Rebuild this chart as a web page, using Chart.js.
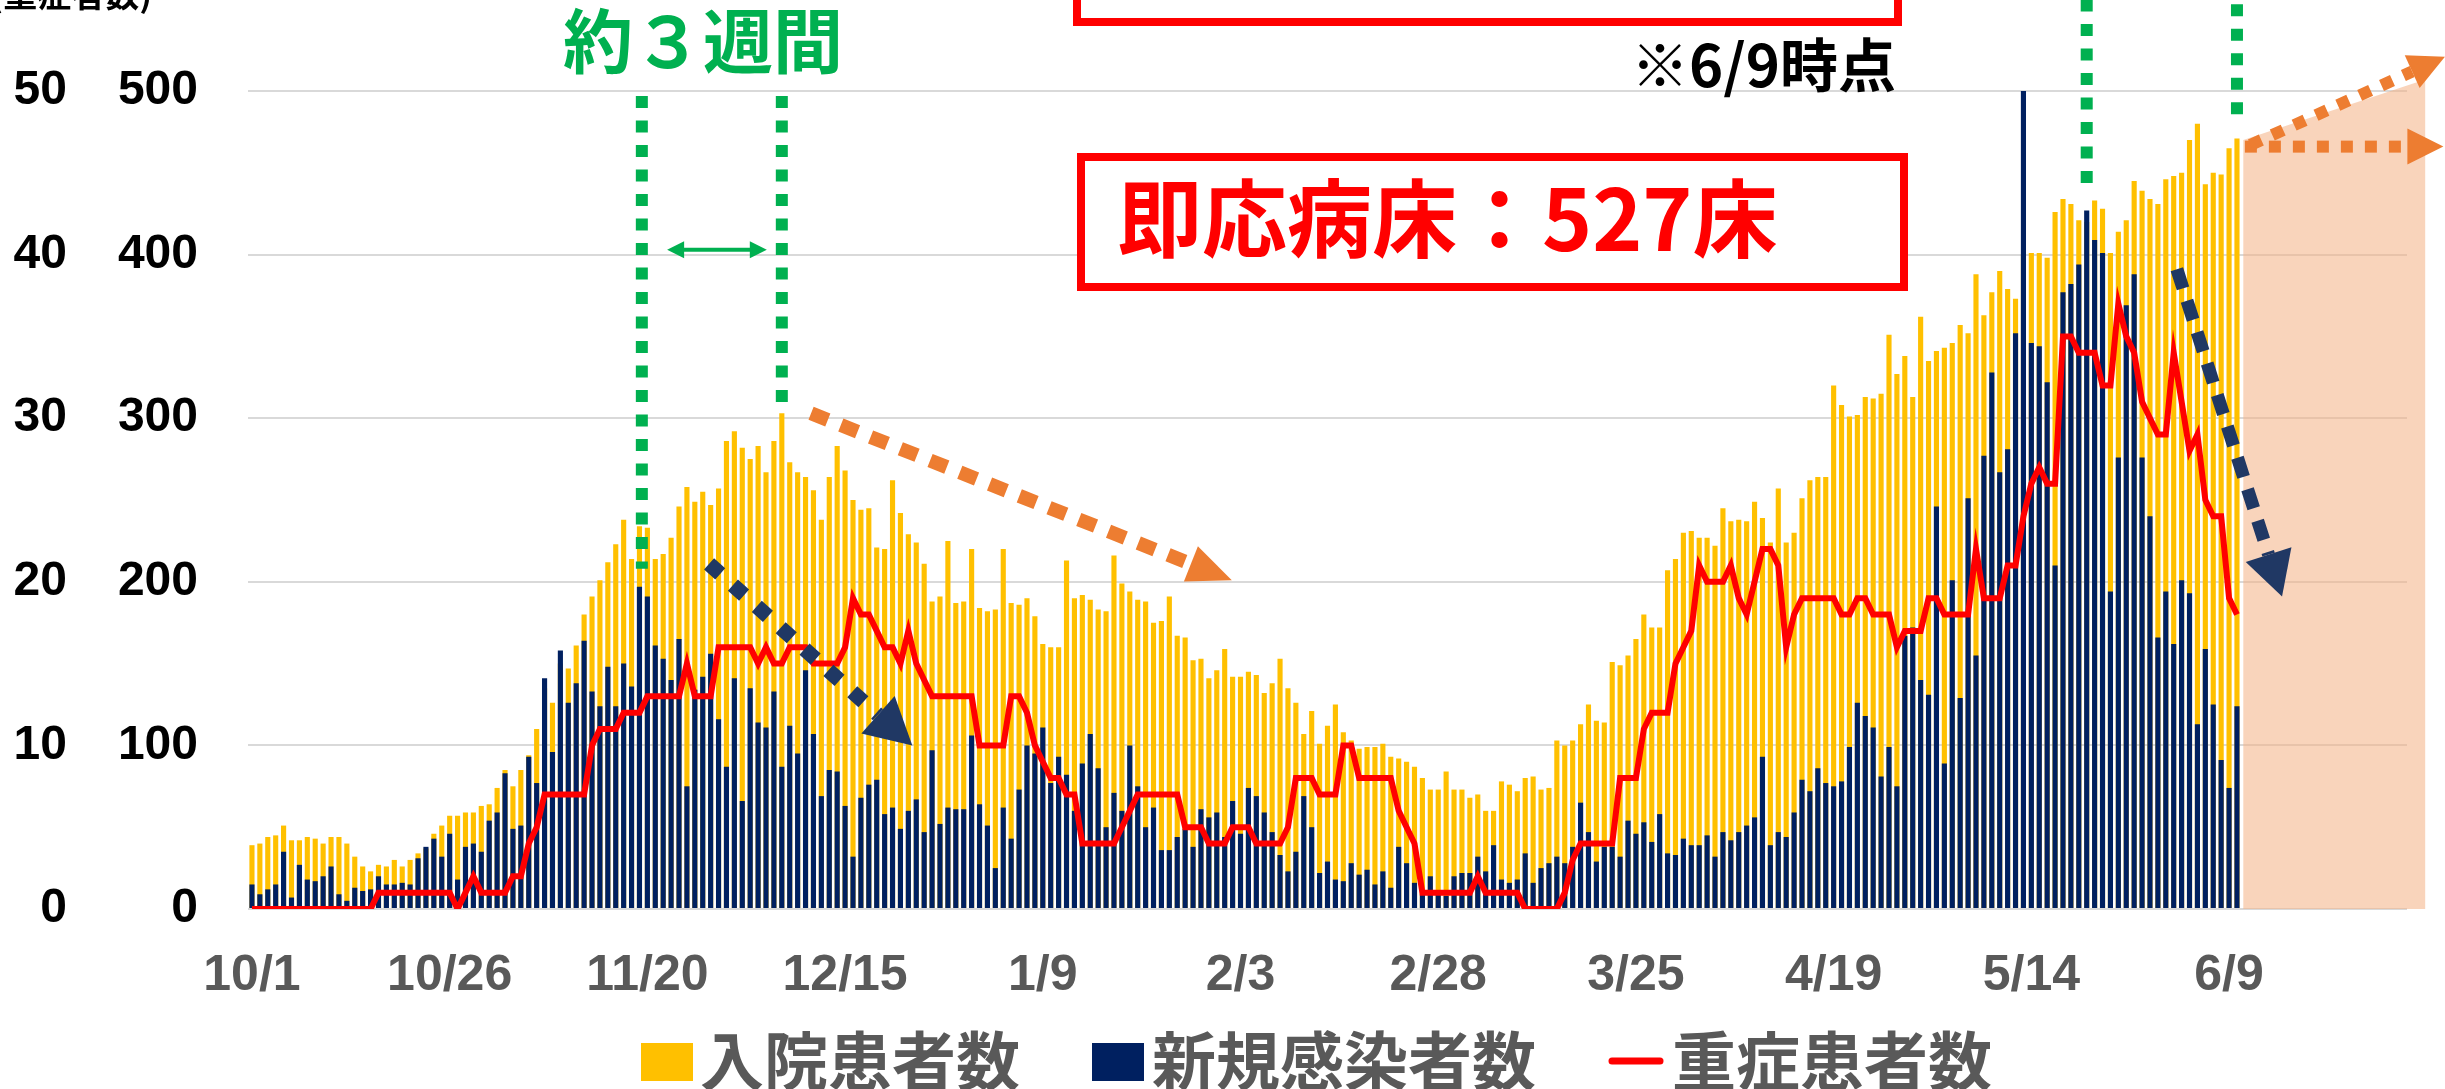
<!DOCTYPE html>
<html>
<head>
<meta charset="utf-8">
<script src="https://cdn.jsdelivr.net/npm/chart.js@4.4.1/dist/chart.umd.min.js"></script>
<style>
html, body { margin: 0; padding: 0; background: #fff; overflow: hidden; }
#wrap { width: 2445px; height: 1089px; position: relative; }
</style>
</head>
<body>
<div id="wrap"><canvas id="canvas"></canvas></div>
<script>
/* data: daily values from 10/1 to 6/9, the axis runs on to 6/30 */
var startDate = new Date(2020, 9, 1);
var axisDays = 273;
var tickLabels = ['10/1', '10/26', '11/20', '12/15', '1/9', '2/3', '2/28', '3/25', '4/19', '5/14', '6/9'];
var tickStep = 25;

var seriesNames = ['入院患者数', '新規感染者数', '重症患者数'];

var hospitalized = [
    39, 40, 44, 45, 51, 42, 42, 44, 43, 40,
    44, 44, 40, 32, 26, 23, 27, 26, 30, 26,
    30, 34, 37, 46, 51, 57, 57, 59, 59, 63,
    64, 74, 85, 75, 85, 94, 110, 135, 126, 150,
    147, 161, 180, 191, 201, 212, 223, 238, 214, 234,
    233, 214, 217, 227, 246, 258, 249, 255, 247, 257,
    286, 292, 282, 275, 283, 267, 286, 303, 273, 267,
    264, 256, 238, 264, 283, 268, 250, 244, 245, 221,
    220, 262, 242, 229, 224, 211, 188, 191, 225, 187,
    188, 220, 184, 182, 183, 220, 187, 186, 190, 179,
    162, 160, 160, 213, 190, 192, 189, 183, 182, 216,
    199, 194, 189, 188, 175, 176, 191, 167, 166, 152,
    153, 141, 146, 159, 142, 142, 145, 143, 132, 138,
    153, 135, 126, 107, 121, 101, 112, 125, 108, 103,
    98, 99, 99, 101, 93, 92, 90, 87, 80, 73,
    73, 84, 73, 73, 68, 70, 60, 60, 78, 76,
    72, 80, 81, 73, 74, 103, 100, 103, 113, 125,
    115, 114, 151, 149, 155, 165, 180, 172, 172, 207,
    214, 230, 231, 227, 227, 222, 245, 237, 238, 237,
    249, 239, 224, 257, 224, 230, 251, 262, 264, 264,
    320, 308, 301, 302, 313, 312, 315, 351, 327, 338,
    313, 362, 335, 341, 343, 346, 357, 352, 388, 363,
    377, 390, 379, 373, 400, 401, 401, 398, 426, 434,
    431, 421, 420, 433, 428, 401, 414, 421, 445, 439,
    434, 431, 446, 448, 450, 470, 480, 443, 450, 449,
    465, 471
];

var newCases = [
    15, 9, 12, 15, 35, 7, 27, 18, 17, 20,
    26, 9, 5, 13, 11, 12, 20, 15, 15, 16,
    15, 31, 38, 43, 32, 46, 18, 38, 40, 35,
    54, 59, 83, 49, 51, 93, 77, 141, 96, 158,
    126, 138, 164, 133, 124, 148, 124, 150, 136, 197,
    191, 161, 153, 140, 165, 75, 134, 142, 156, 116,
    87, 141, 66, 135, 114, 111, 133, 87, 112, 95,
    146, 107, 69, 85, 84, 63, 32, 68, 76, 79,
    58, 62, 49, 60, 67, 47, 97, 52, 62, 61,
    61, 106, 64, 51, 25, 62, 43, 73, 100, 95,
    111, 77, 93, 82, 60, 89, 107, 86, 50, 71,
    60, 100, 75, 50, 62, 36, 36, 44, 49, 38,
    61, 56, 59, 44, 66, 46, 74, 69, 59, 47,
    33, 23, 35, 69, 50, 22, 29, 18, 17, 28,
    21, 24, 15, 23, 13, 38, 28, 16, 9, 20,
    9, 8, 20, 22, 22, 32, 23, 39, 18, 16,
    18, 34, 16, 25, 28, 32, 28, 38, 65, 47,
    29, 38, 38, 32, 54, 46, 53, 41, 58, 34,
    33, 43, 39, 39, 45, 32, 47, 42, 47, 51,
    56, 93, 39, 47, 44, 59, 79, 72, 86, 77,
    75, 78, 99, 126, 118, 111, 81, 99, 75, 167,
    172, 140, 131, 246, 89, 201, 129, 251, 155, 277,
    328, 267, 281, 352, 500, 346, 344, 322, 210, 377,
    382, 394, 427, 409, 401, 194, 276, 369, 388, 276,
    240, 166, 194, 162, 201, 193, 113, 159, 125, 91,
    74, 124
];

var severe = [
    0, 0, 0, 0, 0, 0, 0, 0, 0, 0,
    0, 0, 0, 0, 0, 0, 1, 1, 1, 1,
    1, 1, 1, 1, 1, 1, 0, 1, 2, 1,
    1, 1, 1, 2, 2, 4, 5, 7, 7, 7,
    7, 7, 7, 10, 11, 11, 11, 12, 12, 12,
    13, 13, 13, 13, 13, 15, 13, 13, 13, 16,
    16, 16, 16, 16, 15, 16, 15, 15, 16, 16,
    16, 15, 15, 15, 15, 16, 19, 18, 18, 17,
    16, 16, 15, 17, 15, 14, 13, 13, 13, 13,
    13, 13, 10, 10, 10, 10, 13, 13, 12, 10,
    9, 8, 8, 7, 7, 4, 4, 4, 4, 4,
    5, 6, 7, 7, 7, 7, 7, 7, 5, 5,
    5, 4, 4, 4, 5, 5, 5, 4, 4, 4,
    4, 5, 8, 8, 8, 7, 7, 7, 10, 10,
    8, 8, 8, 8, 8, 6, 5, 4, 1, 1,
    1, 1, 1, 1, 1, 2, 1, 1, 1, 1,
    1, 0, 0, 0, 0, 0, 1, 3, 4, 4,
    4, 4, 4, 8, 8, 8, 11, 12, 12, 12,
    15, 16, 17, 21, 20, 20, 20, 21, 19, 18,
    20, 22, 22, 21, 16, 18, 19, 19, 19, 19,
    19, 18, 18, 19, 19, 18, 18, 18, 16, 17,
    17, 17, 19, 19, 18, 18, 18, 18, 22, 19,
    19, 19, 21, 21, 24, 26, 27, 26, 26, 35,
    35, 34, 34, 34, 32, 32, 37, 35, 34, 31,
    30, 29, 29, 34, 31, 28, 29, 25, 24, 24,
    19, 18
];

var FONT = "'Liberation Sans', 'Noto Sans CJK JP', sans-serif";
var JP = "'Noto Sans CJK JP', 'Liberation Sans', sans-serif";

// category labels, one per day on the axis
var labels = [];
for (var i = 0; i < axisDays; i++) {
    var d = new Date(startDate.getTime());
    d.setDate(d.getDate() + i);
    labels.push((d.getMonth() + 1) + '/' + d.getDate());
}

/* drawing helpers for the notes on top of the chart */
function dashedArrow(ctx, x1, y1, x2, y2, o) {
    var dx = x2 - x1, dy = y2 - y1;
    var len = Math.sqrt(dx * dx + dy * dy);
    var ux = dx / len, uy = dy / len;
    var bx = x2 - ux * o.head, by = y2 - uy * o.head;
    ctx.save();
    ctx.strokeStyle = o.color;
    ctx.lineWidth = o.width;
    ctx.lineCap = 'butt';
    ctx.setLineDash(o.dash);
    ctx.beginPath();
    ctx.moveTo(x1, y1);
    ctx.lineTo(bx, by);
    ctx.stroke();
    ctx.setLineDash([]);
    ctx.fillStyle = o.color;
    ctx.beginPath();
    ctx.moveTo(x2, y2);
    ctx.lineTo(bx - uy * o.headW / 2, by + ux * o.headW / 2);
    ctx.lineTo(bx + uy * o.headW / 2, by - ux * o.headW / 2);
    ctx.closePath();
    ctx.fill();
    ctx.restore();
}

function head(ctx, tx, ty, ux, uy, l, w) {
    var bx = tx - ux * l, by = ty - uy * l;
    ctx.beginPath();
    ctx.moveTo(tx, ty);
    ctx.lineTo(bx - uy * w / 2, by + ux * w / 2);
    ctx.lineTo(bx + uy * w / 2, by - ux * w / 2);
    ctx.closePath();
    ctx.fill();
}

var notesPlugin = {
    id: 'notes',
    beforeDatasetsDraw: function (chart) {
        var ctx = chart.ctx;
        var xs = chart.scales.x, ys = chart.scales.y;
        // shaded forecast area after 6/9
        ctx.save();
        ctx.fillStyle = 'rgba(244,177,131,0.55)';
        ctx.beginPath();
        ctx.moveTo(xs.getPixelForValue(251.8), ys.getPixelForValue(0));
        ctx.lineTo(xs.getPixelForValue(251.8), ys.getPixelForValue(470));
        ctx.lineTo(xs.getPixelForValue(274.8), ys.getPixelForValue(507));
        ctx.lineTo(xs.getPixelForValue(274.8), ys.getPixelForValue(0));
        ctx.closePath();
        ctx.fill();
        ctx.restore();
    },
    afterDatasetsDraw: function (chart) {
        var ctx = chart.ctx;
        var xs = chart.scales.x, ys = chart.scales.y;
        var X = function (v) { return xs.getPixelForValue(v); };
        var Y = function (v) { return ys.getPixelForValue(v); };

        // green dotted guides
        var greens = [[49.3, 497, 208], [67.0, 497, 306], [232.0, 556, 438], [251.0, 553, 484]];
        ctx.save();
        ctx.strokeStyle = '#00B050';
        ctx.lineWidth = 12;
        ctx.setLineDash([12, 12.5]);
        for (var i = 0; i < greens.length; i++) {
            ctx.beginPath();
            ctx.moveTo(X(greens[i][0]), Y(greens[i][1]));
            ctx.lineTo(X(greens[i][0]), Y(greens[i][2]));
            ctx.stroke();
        }
        ctx.setLineDash([]);
        // double arrow between the first two guides
        var ax1 = X(52.5), ax2 = X(65.1), ay = Y(403);
        ctx.lineWidth = 4;
        ctx.beginPath();
        ctx.moveTo(ax1 + 12, ay);
        ctx.lineTo(ax2 - 12, ay);
        ctx.stroke();
        ctx.fillStyle = '#00B050';
        head(ctx, ax1, ay, -1, 0, 17, 17);
        head(ctx, ax2, ay, 1, 0, 17, 17);
        ctx.restore();

        // trend arrows
        dashedArrow(ctx, X(70.7), Y(303), X(123.9), Y(201),
            {color: '#ED7D31', width: 14, dash: [18, 14], head: 44, headW: 38});
        dashedArrow(ctx, X(57.8), Y(211), X(83.5), Y(100),
            {color: '#203864', width: 15, dash: [15, 17], head: 46, headW: 50});
        dashedArrow(ctx, X(243.4), Y(391), X(256.7), Y(191),
            {color: '#203864', width: 13, dash: [20, 13], head: 44, headW: 48});
        dashedArrow(ctx, X(252.0), Y(466), X(277.1), Y(466),
            {color: '#ED7D31', width: 12, dash: [12, 12], head: 36, headW: 36});
        dashedArrow(ctx, X(252.7), Y(467), X(277.3), Y(521),
            {color: '#ED7D31', width: 12, dash: [12, 12], head: 36, headW: 36});
    },
    afterDraw: function (chart) {
        var ctx = chart.ctx;
        ctx.save();
        // cut off axis title at the very top
        ctx.fillStyle = '#000';
        ctx.font = 'bold 34px ' + JP;
        ctx.textAlign = 'right';
        ctx.textBaseline = 'middle';
        ctx.fillText('(重症者数)', 152, -6);

        // top red box, mostly off the picture
        ctx.strokeStyle = '#FF0000';
        ctx.lineWidth = 8;
        ctx.strokeRect(1077, -60, 821, 82);

        ctx.fillStyle = '#000';
        ctx.font = 'bold 58px ' + JP;
        ctx.textAlign = 'right';
        ctx.fillText('※6/9時点', 1896, 65);

        ctx.fillStyle = '#00B050';
        ctx.font = 'bold 70px ' + JP;
        ctx.textAlign = 'center';
        ctx.fillText('約３週間', 703, 41);

        // bed count box
        ctx.fillStyle = '#fff';
        ctx.fillRect(1081, 157, 823, 130);
        ctx.strokeRect(1081, 157, 823, 130);
        ctx.fillStyle = '#FF0000';
        ctx.font = 'bold 85px ' + JP;
        ctx.textAlign = 'left';
        ctx.fillText('即応病床：527床', 1117, 219);

        // legend, in the order of the datasets
        var ds = chart.data.datasets;
        var spots = [[641, 700], [1092, 1152], [1608, 1672]];
        ctx.font = 'bold 64px ' + JP;
        ctx.textAlign = 'left';
        for (var i = 0; i < ds.length; i++) {
            var set = ds[i];
            if (set.type === 'line') {
                ctx.strokeStyle = set.borderColor;
                ctx.lineWidth = 7;
                ctx.lineCap = 'round';
                ctx.beginPath();
                ctx.moveTo(spots[i][0] + 4, 1061);
                ctx.lineTo(spots[i][0] + 52, 1061);
                ctx.stroke();
            } else {
                ctx.fillStyle = set.backgroundColor;
                ctx.fillRect(spots[i][0], 1043, 52, 38);
            }
            ctx.fillStyle = '#595959';
            ctx.fillText(set.label, spots[i][1], 1061);
        }
        ctx.restore();
    }
};

var ctx = document.getElementById('canvas').getContext('2d');

var chart = new Chart(ctx, {
    type: 'bar',
    data: {
        labels: labels,
        datasets: [
            {
                label: seriesNames[0],
                data: hospitalized,
                yAxisID: 'y',
                backgroundColor: '#FFC000',
                grouped: false,
                barPercentage: 0.65,
                categoryPercentage: 1,
                order: 2
            },
            {
                label: seriesNames[1],
                data: newCases,
                yAxisID: 'y',
                backgroundColor: '#002060',
                grouped: false,
                barPercentage: 0.65,
                categoryPercentage: 1,
                order: 1
            },
            {
                type: 'line',
                label: seriesNames[2],
                data: severe,
                yAxisID: 'ySevere',
                borderColor: '#FF0000',
                backgroundColor: '#FF0000',
                borderWidth: 6,
                pointRadius: 0,
                tension: 0,
                order: 0
            }
        ]
    },
    options: {
        responsive: true,
        maintainAspectRatio: false,
        animation: false,
        devicePixelRatio: 1,
        layout: {padding: {top: 91, right: 38, bottom: 88, left: 0}},
        plugins: {
            legend: {display: false},
            tooltip: {enabled: false}
        },
        scales: {
            x: {
                offset: true,
                grid: {display: false, drawTicks: false},
                border: {display: false},
                ticks: {
                    autoSkip: false,
                    maxRotation: 0,
                    minRotation: 0,
                    padding: 37,
                    color: '#595959',
                    font: {family: FONT, size: 50, weight: 'bold'},
                    callback: function (value, index) {
                        return index % tickStep === 0 ? tickLabels[index / tickStep] : '';
                    }
                },
                afterFit: function (scale) { scale.height = 92; }
            },
            ySevere: {
                position: 'left',
                weight: 2,
                min: 0,
                max: 50,
                grid: {display: false, drawTicks: false},
                border: {display: false},
                ticks: {stepSize: 10, padding: 13, color: '#000', font: {family: FONT, size: 48, weight: 'bold'}},
                afterFit: function (scale) { scale.width = 80; }
            },
            y: {
                position: 'left',
                weight: 1,
                min: 0,
                max: 500,
                grid: {color: '#D9D9D9', lineWidth: 2, drawTicks: false},
                border: {display: false},
                ticks: {stepSize: 100, padding: 50, color: '#000', font: {family: FONT, size: 48, weight: 'bold'}},
                afterFit: function (scale) { scale.width = 168; }
            }
        }
    },
    plugins: [notesPlugin]
});
</script>
</body>
</html>
